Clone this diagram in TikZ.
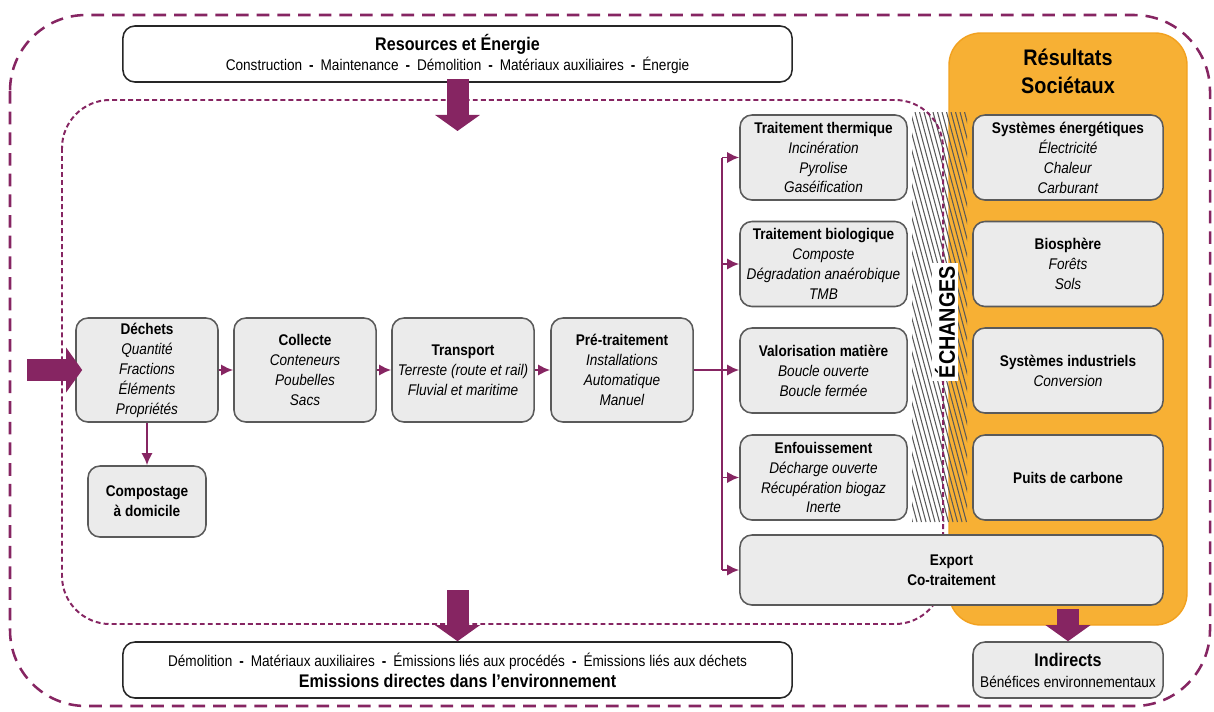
\documentclass[tikz,border=0pt]{standalone}
\usepackage{fontspec}
\setmainfont[FakeStretch=0.88]{Liberation Sans}
\usepackage{tikz}
\usetikzlibrary{arrows.meta,positioning,calc}
\definecolor{wpurple}{HTML}{862562}
\definecolor{worange}{HTML}{F7B034}
\definecolor{worangedk}{HTML}{F2A11F}
\definecolor{wgrey}{HTML}{EBEBEB}
\definecolor{wline}{HTML}{5A5A5A}
\newcommand{\sepd}{\hspace{0.45em}\textbf{-}\hspace{0.45em}}
\tikzset{
  box/.style={rounded corners=3mm,draw=wline,fill=wgrey,line width=1.1pt,align=center,inner sep=2pt,font=\fontsize{11}{14.2}\selectfont},
  chainbox/.style={box,minimum width=3.55cm,minimum height=2.6cm},
  stepbox/.style={box,minimum width=4.175cm,minimum height=2.125cm},
  outbox/.style={box,minimum width=4.75cm,minimum height=2.125cm},
  envbox/.style={rounded corners=3mm,draw=black!85,fill=white,line width=1.1pt,align=center,minimum width=16.725cm,minimum height=1.4cm,font=\fontsize{11}{14.9}\selectfont},
  ar/.style={-{Latex[length=3mm,width=2.8mm]},draw=wpurple,line width=1.4pt},
  bigar/.style={-{Triangle[length=4mm,width=11mm]},draw=wpurple,line width=5.5mm},
}

\begin{document}
\begin{tikzpicture}[x=0.025cm,y=-0.025cm]
  \useasboundingbox (0,0) rectangle (1214,711);
  % frames
  \draw[wpurple,line width=1.8pt,dash pattern=on 9pt off 5.7pt,rounded corners=1.9cm] (10,15) rectangle (1210,706);
  \draw[worangedk,fill=worange,line width=1pt,rounded corners=8mm] (949,33) rectangle (1187,625);
  \node[font=\fontsize{16}{20}\selectfont\bfseries,align=center] (soc) at (1068,71) {Résultats\\Sociétaux};
  \begin{scope}
    \clip (912,112) rectangle (967,522);
    \foreach \x in {780,784.5,...,975}
      \draw[black!65,line width=0.75pt] (\x,112) -- ++(110,410);
  \end{scope}
  \draw[wpurple,line width=1.4pt,dash pattern=on 3.5pt off 2.2pt,rounded corners=1.2cm] (62,100) rectangle (943,624);
  \node[fill=white,rotate=90,font=\fontsize{16}{18}\selectfont\bfseries,inner sep=2pt] (ech) at (945,322) {ÉCHANGES};

  % top and bottom
  \node[envbox] (res) at (457.5,54) {{\fontsize{13}{15}\selectfont\bfseries Resources et Énergie}\\Construction\sepd Maintenance\sepd Démolition\sepd Matériaux auxiliaires\sepd Énergie};
  \node[envbox] (emi) at (457.5,670) {Démolition\sepd Matériaux auxiliaires\sepd Émissions liés aux procédés\sepd Émissions liés aux déchets\\{\fontsize{13}{15}\selectfont\bfseries Emissions directes dans l’environnement}};

  % chain
  \node[chainbox] (dech) at (147,370) {\textbf{Déchets}\\\textit{Quantité}\\\textit{Fractions}\\\textit{Éléments}\\\textit{Propriétés}};
  \node[chainbox] (coll) at (305,370) {\textbf{Collecte}\\\textit{Conteneurs}\\\textit{Poubelles}\\\textit{Sacs}};
  \node[chainbox] (trans) at (463,370) {\textbf{Transport}\\\textit{Terreste (route et rail)}\\\textit{Fluvial et maritime}};
  \node[chainbox] (pret) at (622,370) {\textbf{Pré-traitement}\\\textit{Installations}\\\textit{Automatique}\\\textit{Manuel}};
  \node[box,minimum width=2.95cm,minimum height=1.775cm] (comp) at (147,501.5) {\textbf{Compostage}\\\textbf{à domicile}};

  % treatments
  \node[stepbox] (therm) at (823.5,157.5) {\textbf{Traitement thermique}\\\textit{Incinération}\\\textit{Pyrolise}\\\textit{Gaséification}};
  \node[stepbox] (bio) at (823.5,264) {\textbf{Traitement biologique}\\\textit{Composte}\\\textit{Dégradation anaérobique}\\\textit{TMB}};
  \node[stepbox] (valo) at (823.5,370.5) {\textbf{Valorisation matière}\\\textit{Boucle ouverte}\\\textit{Boucle fermée}};
  \node[stepbox] (enf) at (823.5,477.5) {\textbf{Enfouissement}\\\textit{Décharge ouverte}\\\textit{Récupération biogaz}\\\textit{Inerte}};
  \node[box,minimum width=10.575cm,minimum height=1.75cm] (expo) at (951.5,570) {\textbf{Export}\\\textbf{Co-traitement}};

  % outcomes
  \node[outbox] (ener) at (1068,157.5) {\textbf{Systèmes énergétiques}\\\textit{Électricité}\\\textit{Chaleur}\\\textit{Carburant}};
  \node[outbox] (bios) at (1068,264) {\textbf{Biosphère}\\\textit{Forêts}\\\textit{Sols}};
  \node[outbox] (indu) at (1068,370.5) {\textbf{Systèmes industriels}\\\textit{Conversion}};
  \node[outbox] (puits) at (1068,477.5) {\textbf{Puits de carbone}};
  \node[box,minimum width=4.75cm,minimum height=1.4cm,font=\fontsize{11}{15}\selectfont] (indi) at (1068,670) {{\fontsize{13}{15}\selectfont\bfseries Indirects}\\Bénéfices environnementaux};

  % connectors
  \draw[ar] (dech) -- (coll);
  \draw[ar] (coll) -- (trans);
  \draw[ar] (trans) -- (pret);
  \draw[ar] (dech) -- (comp);
  \coordinate (jn) at (722,370);
  \draw[ar] (pret.east) -- (pret.east -| valo.west);
  \draw[wpurple,line width=1.4pt] (jn |- therm.west) -- (jn |- expo.west);
  \foreach \n in {therm,bio,enf,expo}
    \draw[ar] (jn |- \n.west) -- (\n.west);

  % block arrows
  \coordinate (inA) at (457.5,131);
  \coordinate (outA) at (457.5,590);
  \coordinate (inL) at (27,370);
  \coordinate (outS) at (1068,609);
  \draw[bigar] ([yshift=1mm]res.south) -- (inA);
  \draw[bigar] (outA) -- (emi.north);
  \draw[bigar] (inL) -- ([xshift=1.75mm]dech.west);
  \draw[bigar] (outS) -- (indi.north);
\end{tikzpicture}
\end{document}
